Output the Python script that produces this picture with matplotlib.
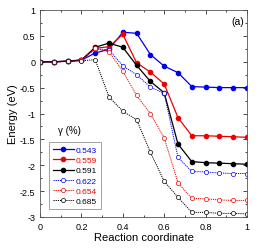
import numpy as np
import matplotlib
matplotlib.use("Agg")
import matplotlib.pyplot as plt
from matplotlib.ticker import MultipleLocator

plt.rcParams['font.family'] = ['Liberation Sans', 'DejaVu Sans']

x = np.arange(16) / 15.0
gammas = ['0.543', '0.559', '0.591', '0.622', '0.654', '0.685']
e543 = [0, 0, 0.01, 0.03, 0.17, 0.24, 0.57, 0.55, 0.14, -0.085, -0.21, -0.48, -0.49, -0.5, -0.5, -0.5]
e559 = [0, 0, 0.01, 0.04, 0.26, 0.29, 0.53, -0.02, -0.2, -0.43, -1.08, -1.43, -1.43, -1.44, -1.45, -1.46]
e591 = [0, 0, 0.01, 0.03, 0.28, 0.36, 0.28, -0.07, -0.38, -0.6, -1.59, -1.93, -1.95, -1.96, -1.97, -1.98]
e622 = [0, 0, 0.01, 0.03, 0.25, 0.23, -0.08, -0.25, -0.49, -0.61, -1.85, -2.12, -2.13, -2.15, -2.16, -2.16]
e654 = [0, 0, 0.01, 0.03, 0.26, 0.19, -0.18, -0.65, -1.0, -1.47, -2.34, -2.64, -2.65, -2.67, -2.68, -2.68]
e685 = [0, 0, 0.01, 0.02, 0.04, -0.68, -0.955, -1.12, -1.75, -2.31, -2.62, -2.91, -2.91, -2.93, -2.93, -2.94]
series = [e543, e559, e591, e622, e654, e685]
colors = ['#0000ee', '#ee0000', 'black', '#0000ee', '#ee0000', 'black']

fig = plt.figure(figsize=(2.66, 2.51), dpi=100)
ax = fig.add_axes([40/266, 1 - 218/251, 207/266, 207/251])

handles = []
for i, (g, y, c) in enumerate(zip(gammas, series, colors)):
    if i < 3:
        h, = ax.plot(x, y, '-', color=c, lw=0.9, marker='o', ms=3, mfc=c, mec=c, label=g)
    else:
        h, = ax.plot(x, y, linestyle=(0, (1.2, 1.0)), color=c, lw=0.7, marker='o', ms=3,
                     mfc='white', mec=c, mew=0.5, label=g)
    handles.append(h)

ax.set_xlim(0, 1)
ax.set_ylim(-3, 1)
ax.xaxis.set_major_locator(MultipleLocator(0.2))
ax.xaxis.set_minor_locator(MultipleLocator(0.1))
ax.yaxis.set_major_locator(MultipleLocator(0.5))
ax.yaxis.set_minor_locator(MultipleLocator(0.25))
ax.tick_params(which='both', direction='in', top=True, right=True, labelsize=6.5, width=0.5)
ax.tick_params(which='major', length=3)
ax.tick_params(which='minor', length=1.5)
ax.set_xticks([0, 0.2, 0.4, 0.6, 0.8, 1])
ax.set_xticklabels(['0', '0.2', '0.4', '0.6', '0.8', '1'])
ax.set_yticks([-3, -2.5, -2, -1.5, -1, -0.5, 0, 0.5, 1])
ax.set_yticklabels(['-3', '-2.5', '-2', '-1.5', '-1', '-0.5', '0', '0.5', '1'])
for s in ax.spines.values():
    s.set_linewidth(0.6)
    s.set_color('#555555')

ax.set_xlabel('Reaction coordinate', fontsize=8, labelpad=1)
ax.set_ylabel('Energy (eV)', fontsize=8, labelpad=1)
ax.text(0.985, 0.97, '(a)', transform=ax.transAxes, ha='right', va='top', fontsize=7.5)

leg = ax.legend(handles=handles, loc='lower left', bbox_to_anchor=(0.043, 0.038),
                borderaxespad=0, fontsize=6, frameon=True, fancybox=False,
                edgecolor='#777777', handlelength=2.5, handletextpad=0.25,
                labelspacing=0.28, borderpad=0.5, numpoints=1)
leg.get_frame().set_linewidth(0.6)
for t, c in zip(leg.get_texts(), colors):
    t.set_color(c)
ax.text(0.143, 0.42, '\u03b3 (%)', transform=ax.transAxes, ha='center', va='center', fontsize=7)

fig.savefig('out.png', dpi=100)
